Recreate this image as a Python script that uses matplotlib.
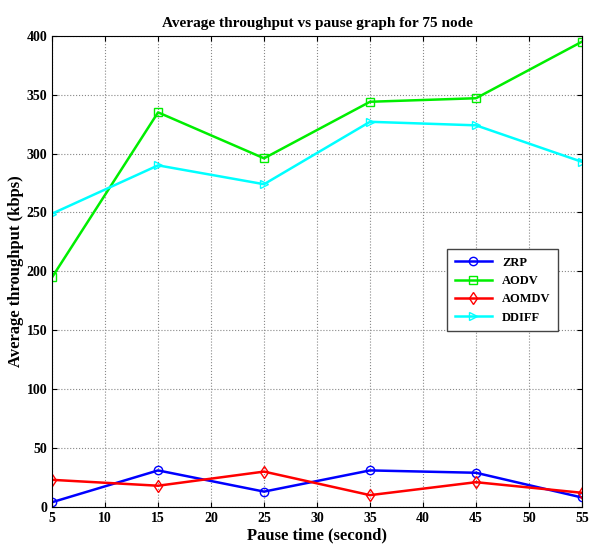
import matplotlib
matplotlib.use("Agg")
import matplotlib.pyplot as plt

pause = [5, 15, 25, 35, 45, 55]
zrp = [4, 31, 13, 31, 29, 8]
aodv = [195, 335, 296, 344, 347, 395]
aomdv = [23, 18, 30, 10, 21, 12]
ddiff = [249, 290, 274, 327, 324, 293]

plt.rcParams["font.family"] = ["Liberation Serif", "DejaVu Serif"]
plt.rcParams["font.weight"] = "bold"

fig = plt.figure(figsize=(5.92, 5.51), dpi=100)
ax = fig.add_axes([0.088, 0.080, 0.895, 0.855])

ax.plot(pause, zrp, "-o", color="#0000ff", lw=1.8, ms=6, mfc="none", label="ZRP")
ax.plot(pause, aodv, "-s", color="#00ee00", lw=1.8, ms=6, mfc="none", label="AODV")
ax.plot(pause, aomdv, "-d", color="#ff0000", lw=1.8, ms=6, mfc="none", label="AOMDV")
ax.plot(pause, ddiff, "->", color="#00ffff", lw=1.8, ms=6, mfc="none", label="DDIFF")

ax.set_xlim(5, 55)
ax.set_ylim(0, 400)
ax.set_xticks(range(5, 56, 5))
ax.set_yticks(range(0, 401, 50))
ax.tick_params(direction="in", top=True, right=True, labelsize=10)
for lab in ax.get_xticklabels() + ax.get_yticklabels():
    lab.set_fontweight("bold")
ax.grid(True, linestyle=":", color="#888888", linewidth=0.8)

ax.set_title("Average throughput vs pause graph for 75 node", fontsize=11, fontweight="bold")
ax.set_xlabel("Pause time (second)", fontsize=12, fontweight="bold", labelpad=2)
ax.set_ylabel("Average throughput (kbps)", fontsize=12, fontweight="bold", labelpad=2)

leg = ax.legend(loc="upper right", bbox_to_anchor=(0.967, 0.56), fontsize=9,
                fancybox=False, edgecolor="#444444", framealpha=1,
                handlelength=3, borderpad=0.6)
for t in leg.get_texts():
    t.set_fontweight("bold")

fig.savefig("out.png", dpi=100, facecolor="white")
